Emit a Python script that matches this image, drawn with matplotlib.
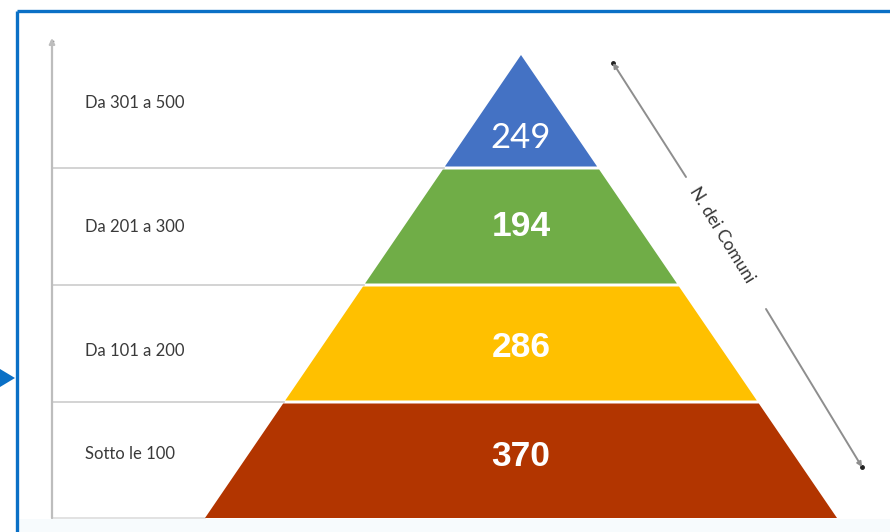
import matplotlib
matplotlib.use("Agg")
import matplotlib.pyplot as plt
from matplotlib.patches import Polygon

# Data (top to bottom)
categories = ["Da 301 a 500", "Da 201 a 300", "Da 101 a 200", "Sotto le 100"]
values = [249, 194, 286, 370]
colors = ["#4472C4", "#70AD47", "#FFC000", "#B23500"]
axis_label = "N. dei Comuni"

W, H = 890, 532
fig = plt.figure(figsize=(W / 100, H / 100), dpi=100)
ax = fig.add_axes([0, 0, 1, 1])
ax.set_xlim(0, W)
ax.set_ylim(H, 0)
ax.axis("off")

# outer frame
ax.fill_between([18, W], 519, H, color="#F7FBFD", zorder=0, lw=0)
ax.plot([16.5, 16.5], [11, H], color="#0A70C6", lw=2.4, solid_capstyle="butt")
ax.plot([16.5, W], [11, 11], color="#0A70C6", lw=2.4, solid_capstyle="butt")
ax.add_patch(Polygon([(0, 369), (15, 378), (0, 387)], closed=True,
                     facecolor="#0A70C6", edgecolor="none"))

# pyramid geometry
apex_x, apex_y = 521, 55
base_y = 518
half_base = 316
axis_x = 52
axis_top = 38
n = len(values)
bounds = [apex_y, 168, 285, 402, base_y]


def half_w(y):
    return half_base * (y - apex_y) / (base_y - apex_y)


gap = 1.5
num_offsets = [0, 0, 4, -3]
for i, (val, col) in enumerate(zip(values, colors)):
    y0 = bounds[i] + (gap if i > 0 else 0)
    y1 = bounds[i + 1] - (gap if i < n - 1 else 0)
    pts = [(apex_x - half_w(y0), y0), (apex_x + half_w(y0), y0),
           (apex_x + half_w(y1), y1), (apex_x - half_w(y1), y1)]
    ax.add_patch(Polygon(pts, closed=True, facecolor=col, edgecolor="none", zorder=3))
    if i == 0:
        ty = bounds[1] - 30
        ax.text(apex_x, ty, str(val), color="white", fontsize=25,
                family="Lato", ha="center", va="center", zorder=4)
    else:
        ty = (bounds[i] + bounds[i + 1]) / 2 + num_offsets[i]
        ax.text(apex_x, ty, str(val), color="white", fontsize=25.5, fontweight="bold",
                family="Liberation Sans", ha="center", va="center", zorder=4)

# left axis with arrow
ax.annotate("", xy=(axis_x, axis_top), xytext=(axis_x, base_y),
            arrowprops=dict(arrowstyle="-|>", color="#BDBDBD", lw=1.6,
                            mutation_scale=8, shrinkA=0, shrinkB=0))
ax.plot([axis_x - 1, axis_x + 1], [axis_top + 3, axis_top + 3], color="#333333", lw=1)
ax.plot([axis_x, apex_x - half_base], [base_y, base_y], color="#DDDDDD", lw=1.2, zorder=2)
for b in bounds[1:-1]:
    ax.plot([axis_x, apex_x - half_w(b)], [b, b], color="#CCCCCC", lw=1.2, zorder=2)

# category labels
label_bounds = [axis_top] + bounds[1:]
label_offsets = [0, 0, 7, -6]
for i, cat in enumerate(categories):
    cy = (label_bounds[i] + label_bounds[i + 1]) / 2 + label_offsets[i]
    ax.text(85, cy, cat, fontsize=12, family="Lato", color="#3A3A3A",
            ha="left", va="center")

# diagonal arrow "N. dei Comuni"
p0 = (613, 63)
p1 = (862, 467)
g0 = (686, 177)
g1 = (766, 309)
ax.annotate("", xy=p0, xytext=g0,
            arrowprops=dict(arrowstyle="-|>", color="#8E8E8E", lw=1.4,
                            mutation_scale=7, shrinkA=0, shrinkB=0))
ax.annotate("", xy=p1, xytext=g1,
            arrowprops=dict(arrowstyle="-|>", color="#8E8E8E", lw=1.4,
                            mutation_scale=7, shrinkA=0, shrinkB=0))
ax.plot([p0[0]], [p0[1]], "o", color="#222222", ms=2.5)
ax.plot([p1[0]], [p1[1]], "o", color="#222222", ms=2.5)
ax.text(722, 235, axis_label, rotation=-58.4, rotation_mode="anchor",
        fontsize=12.5, family="Lato", color="#333333", ha="center", va="center")

fig.savefig("out.png", dpi=100)
